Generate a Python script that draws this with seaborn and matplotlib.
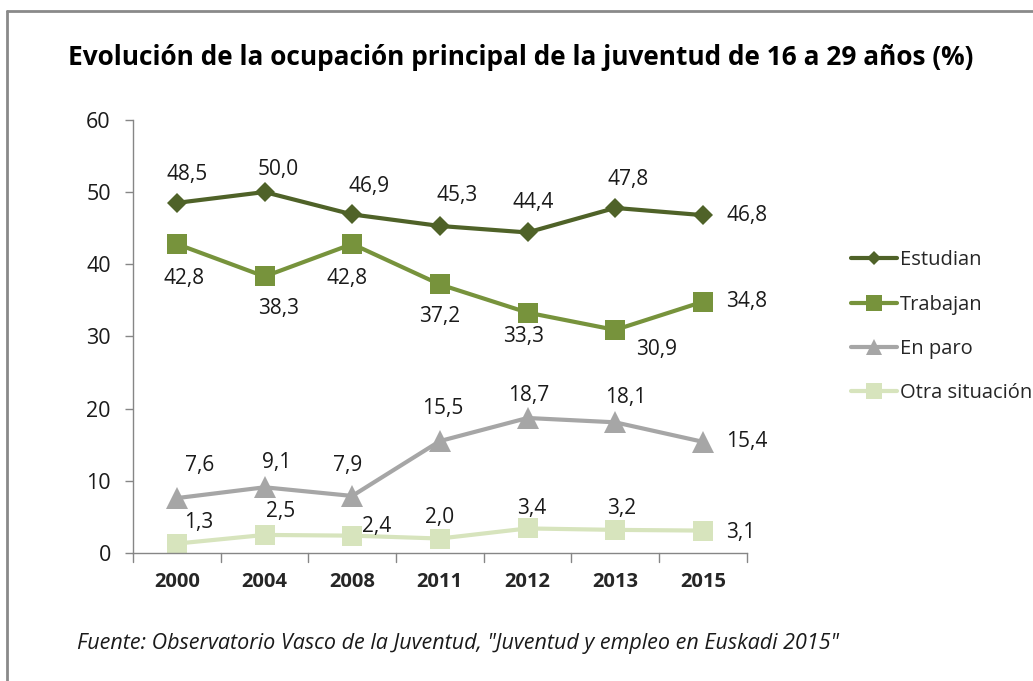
import matplotlib
matplotlib.use("Agg")
import matplotlib.pyplot as plt
import seaborn as sns
import pandas as pd
from matplotlib.lines import Line2D

# data
years = ["2000", "2004", "2008", "2011", "2012", "2013", "2015"]
estudian = [48.5, 50.0, 46.9, 45.3, 44.4, 47.8, 46.8]
trabajan = [42.8, 38.3, 42.8, 37.2, 33.3, 30.9, 34.8]
en_paro = [7.6, 9.1, 7.9, 15.5, 18.7, 18.1, 15.4]
otra = [1.3, 2.5, 2.4, 2.0, 3.4, 3.2, 3.1]

series_names = ["Estudian", "Trabajan", "En paro", "Otra situación"]
colors = ["#4F6228", "#77933C", "#A6A6A6", "#D7E4BD"]
markers = ["D", "s", "^", "s"]
msizes = [10, 14, 15.5, 14]

df = pd.DataFrame({
    "year": years * 4,
    "serie": [n for n in series_names for _ in years],
    "value": estudian + trabajan + en_paro + otra,
})
df["x"] = df["year"].map({y: i for i, y in enumerate(years)})

# data label offsets in pixels (dx, dy), as placed in the original
off_est = [(10, 28), (14, 23), (17, 28), (17, 30), (6, 30), (13, 28), (44, 0)]
off_tra = [(7, -34), (14, -32), (-5, -34), (0, -32), (-4, -24), (41, -20), (44, 0)]
off_par = [(23, 33), (12, 25), (-5, 30), (3, 33), (1, 22), (11, 25), (44, 0)]
off_otr = [(22, 21), (16, 23), (24, 9), (0, 21), (4, 20), (6, 21), (38, -2)]
offsets = [off_est, off_tra, off_par, off_otr]

sns.set_style("white")
plt.rcParams["font.family"] = ["Open Sans", "DejaVu Sans"]

fig = plt.figure(figsize=(10.33, 6.81), dpi=100)
ax = fig.add_axes([0.1288, 0.188, 0.594, 0.636])

for name, c, m, ms in zip(series_names, colors, markers, msizes):
    sub = df[df["serie"] == name]
    sns.lineplot(data=sub, x="x", y="value", ax=ax, color=c, lw=3,
                 marker=m, markersize=ms, markeredgewidth=0, legend=False)

for name, offs in zip(series_names, offsets):
    sub = df[df["serie"] == name]
    for (x, v), (dx, dy) in zip(zip(sub["x"], sub["value"]), offs):
        ax.annotate(f"{v:.1f}".replace(".", ","), (x, v), xytext=(dx, dy),
                    textcoords="offset pixels", ha="center", va="center",
                    fontsize=15, color="#1a1a1a")

ax.set_xlim(-0.5, len(years) - 0.5)
ax.set_ylim(0, 60)
ax.set_yticks(range(0, 61, 10))
ax.set_xticks(range(len(years)))
ax.set_xticklabels(years, fontsize=14.5, fontweight="bold")
ax.tick_params(axis="y", labelsize=15.5, length=6, color="#868686", pad=10,
               left=True, width=1, labelcolor="#1a1a1a")
ax.tick_params(axis="x", length=0, pad=14)
for i in range(len(years) + 1):
    ax.plot([i - 0.5, i - 0.5], [0, -1.2], color="#868686", lw=1, clip_on=False)
ax.set_xlabel("")
ax.set_ylabel("")
for s in ["top", "right"]:
    ax.spines[s].set_visible(False)
for s in ["left", "bottom"]:
    ax.spines[s].set_color("#868686")
    ax.spines[s].set_linewidth(1)

handles = [Line2D([], [], color=c, lw=3, marker=m, markersize=ms * f,
                  markeredgewidth=0)
           for c, m, ms, f in zip(colors, markers, msizes, [0.75, 0.85, 0.75, 0.85])]
fig.legend(handles, series_names, loc="upper left",
           bbox_to_anchor=(0.816, 0.644), frameon=False, fontsize=14.5,
           handlelength=2.3, handletextpad=0.15, labelspacing=1.2,
           borderaxespad=0)

fig.text(0.066, 0.915, "Evolución de la ocupación principal de la juventud de 16 a 29 años (%)",
         fontsize=18.9, fontweight="bold", color="black", va="center")
fig.text(0.075, 0.055, "Fuente: Observatorio Vasco de la Juventud, \"Juventud y empleo en Euskadi 2015\"",
         fontsize=15.5, fontstyle="italic", color="#1a1a1a", va="center")

# chart frame (top and left edges visible)
fig.add_artist(Line2D([0.0068, 1.0], [0.984, 0.984], color="#8a8a8a", lw=2))
fig.add_artist(Line2D([0.0068, 0.0068], [0.0, 0.984], color="#8a8a8a", lw=2))

fig.savefig("out.png", dpi=100)
